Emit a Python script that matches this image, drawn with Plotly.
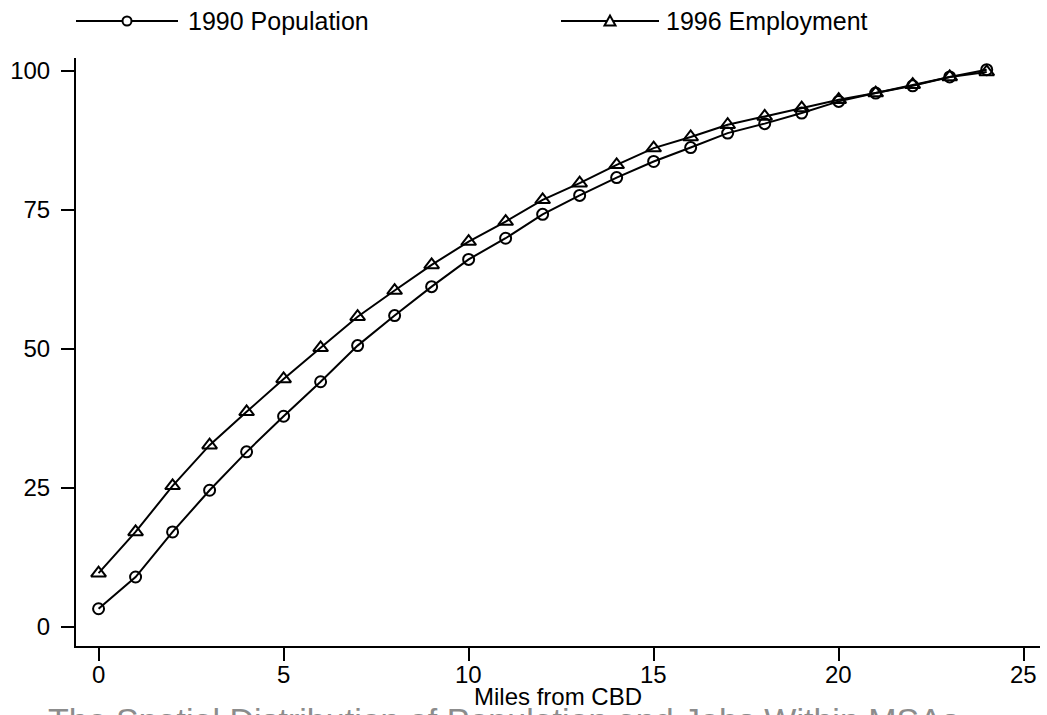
import plotly.graph_objects as go

miles = list(range(0, 25))
pop_1990 = [3.3, 9.0, 17.1, 24.6, 31.5, 37.9, 44.1, 50.6, 56.0, 61.2, 66.1, 69.9,
            74.2, 77.6, 80.8, 83.7, 86.2, 88.8, 90.5, 92.4, 94.5, 96.0, 97.3, 98.9, 100.2]
emp_1996 = [9.7, 17.1, 25.4, 32.7, 38.7, 44.6, 50.2, 55.8, 60.5, 65.1, 69.3, 72.9,
            76.8, 79.8, 83.1, 86.1, 88.1, 90.3, 91.8, 93.3, 94.8, 96.0, 97.5, 98.9, 99.8]
series_names = ["1990 Population", "1996 Employment"]
x_ticks = [0, 5, 10, 15, 20, 25]
y_ticks = [0, 25, 50, 75, 100]
x_title = "Miles from CBD"
caption = "The Spatial Distribution of Population and Jobs Within MSAs"

FONT = "Liberation Sans, Arial, sans-serif"
L, R, T, B = 76, 7, 58, 69
W, H = 1047, 715
PW, PH = W - L - R, H - T - B

def px_x(p):
    return (p - L) / PW

def px_y(q):
    return (H - B - q) / PH

fig = go.Figure()
fig.add_trace(go.Scatter(
    x=miles, y=pop_1990, mode="lines+markers", name=series_names[0],
    line=dict(color="black", width=2),
    marker=dict(symbol="circle-open", size=11, color="black", line=dict(width=2)),
    showlegend=False, cliponaxis=False))
fig.add_trace(go.Scatter(
    x=miles, y=emp_1996, mode="lines+markers", name=series_names[1],
    line=dict(color="black", width=2),
    marker=dict(symbol="triangle-up-open", size=13, color="black", line=dict(width=2)),
    showlegend=False, cliponaxis=False))

# custom legend (Stata style: long line sample with marker in the middle)
leg_y = px_y(21)
legend_items = [
    (series_names[0], 76, 178, 186, "circle"),
    (series_names[1], 561, 659, 664, "triangle"),
]
for name, x0, x1, tx, sym in legend_items:
    fig.add_shape(type="line", xref="paper", yref="paper",
                  x0=px_x(x0), x1=px_x(x1), y0=leg_y, y1=leg_y,
                  line=dict(color="black", width=2))
    cx = px_x((x0 + x1) / 2)
    if sym == "circle":
        fig.add_shape(type="circle", xref="paper", yref="paper",
                      xsizemode="pixel", ysizemode="pixel", xanchor=cx, yanchor=leg_y,
                      x0=-4.5, x1=4.5, y0=-4.5, y1=4.5,
                      fillcolor="white", line=dict(color="black", width=2))
    else:
        fig.add_shape(type="path", xref="paper", yref="paper",
                      xsizemode="pixel", ysizemode="pixel", xanchor=cx, yanchor=leg_y,
                      path="M -5.5 -4.5 L 5.5 -4.5 L 0 5.5 Z",
                      fillcolor="white", line=dict(color="black", width=2))
    fig.add_annotation(x=px_x(tx), y=leg_y, xref="paper", yref="paper",
                       text=name, showarrow=False, xanchor="left", yanchor="middle",
                       font=dict(family=FONT, size=25, color="black"))

# x tick labels placed as text under the ticks
for v in x_ticks:
    fig.add_annotation(x=v, y=px_y(674), xref="x", yref="paper", text=str(v),
                       showarrow=False, xanchor="center", yanchor="middle",
                       font=dict(family=FONT, size=24, color="black"))

fig.add_annotation(x=0.5, y=px_y(696), xref="paper", yref="paper", text=x_title,
                   showarrow=False, xanchor="center", yanchor="middle",
                   font=dict(family=FONT, size=24, color="black"))
fig.add_annotation(x=px_x(46), y=px_y(699), xref="paper", yref="paper", text=caption,
                   showarrow=False, xanchor="left", yanchor="top",
                   font=dict(family=FONT, size=34, color="#8c8c8c"))

fig.update_layout(
    width=W, height=H, margin=dict(l=L, r=R, t=T, b=B),
    paper_bgcolor="white", plot_bgcolor="white",
    font=dict(family=FONT, size=24, color="black"),
    xaxis=dict(range=[-0.61, 25.44], tickvals=x_ticks, ticks="outside", ticklen=13,
               tickwidth=2, tickcolor="black", showline=True, linewidth=2,
               linecolor="black", showgrid=False, zeroline=False,
               showticklabels=False),
    yaxis=dict(range=[-3.4, 102.3], tickvals=y_ticks, ticks="outside", ticklen=13,
               tickwidth=2, tickcolor="black", showline=True, linewidth=2,
               linecolor="black", showgrid=False, zeroline=False,
               ticklabelstandoff=6, tickfont=dict(size=24)),
    showlegend=False,
)

fig.write_html("out.html", config={"displayModeBar": False},
               post_script="document.body.style.margin='0px';document.body.style.overflow='hidden';")
